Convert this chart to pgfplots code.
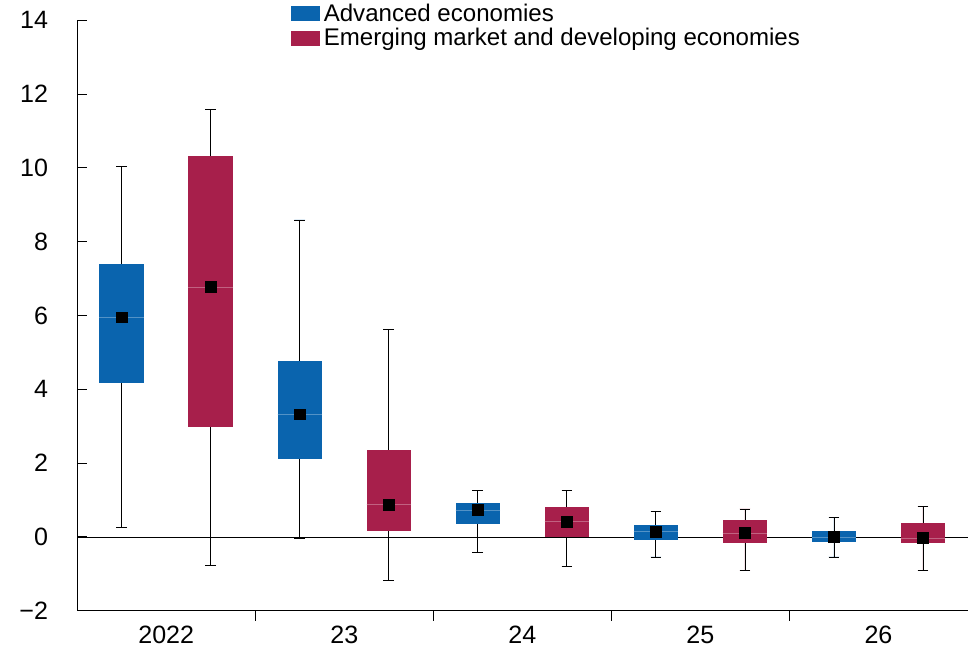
\documentclass[border=0pt]{standalone}
\usepackage{pgfplots}
\pgfplotsset{compat=1.18}
\usepgfplotslibrary{statistics}
\usepackage{fontspec}
\setmainfont{Liberation Sans}
\definecolor{advblue}{HTML}{0A64AE}
\definecolor{emred}{HTML}{A71F4B}
\begin{document}
\begin{tikzpicture}
\begin{axis}[
  scale only axis, width=444pt, height=294.5pt,
  xmin=0, xmax=5, ymin=-2, ymax=14,
  axis lines=left, axis line style={-, black, line width=0.5pt},
  ytick={-2,0,...,14}, yticklabels={−2,0,2,4,6,8,10,12,14},
  xtick={1,2,3,4}, xticklabels={},
  xtick align=outside,
  extra x ticks={0.5,1.5,2.5,3.5,4.5}, extra x tick labels={2022,23,24,25,26},
  extra x tick style={major tick length=0pt},
  ytick align=inside, major tick length=5pt, tick style={black, line width=0.5pt},
  tick label style={font=\fontsize{12.5}{14}\selectfont},
  yticklabel style={xshift=-11pt},
  xticklabel style={yshift=-4pt},
  legend style={at={(0.24,1.035)}, anchor=north west, draw=none, fill=none,
    font=\fontsize{12}{13}\selectfont, row sep=-2pt, inner sep=0pt},
  legend cell align=left,
  boxplot/draw direction=y,
  boxplot/box extend=0.25, boxplot/whisker extend=0.06,
  boxplot/every whisker/.style={draw=black, line width=0.4pt},
  clip=false,
]
\path (rel axis cs:0,0) ++(-38.5pt,0) coordinate (L);
\path (L) rectangle ++(0.1pt,0.1pt);
\addlegendimage{area legend, fill=advblue, draw=none, legend image code/.code={\fill[advblue] (0cm,-0.12cm) rectangle (0.5cm,0.14cm);}}
\addlegendentry{Advanced economies}
\addlegendimage{area legend, fill=emred, draw=none, legend image code/.code={\fill[emred] (0cm,-0.12cm) rectangle (0.5cm,0.14cm);}}
\addlegendentry{Emerging market and developing economies}
\addplot[black, line width=0.4pt, forget plot] coordinates {(0,0) (5,0)};
\pgfplotsset{
  advbox/.style={forget plot, fill=advblue, draw=none, boxplot/every box/.style={fill=advblue, draw=none}, boxplot/every median/.style={draw=advblue!70!white, line width=0.4pt}},
  embox/.style={forget plot, fill=emred, draw=none, boxplot/every box/.style={fill=emred, draw=none}, boxplot/every median/.style={draw=emred!70!white, line width=0.4pt}},
}
% Advanced
\addplot[advbox, boxplot prepared={draw position=0.25, lower whisker=0.27, lower quartile=4.16, median=5.95, upper quartile=7.39, upper whisker=10.03}] coordinates {};
\addplot[advbox, boxplot prepared={draw position=1.25, lower whisker=-0.03, lower quartile=2.12, median=3.32, upper quartile=4.78, upper whisker=8.59}] coordinates {};
\addplot[advbox, boxplot prepared={draw position=2.25, lower whisker=-0.43, lower quartile=0.35, median=0.73, upper quartile=0.92, upper whisker=1.25}] coordinates {};
\addplot[advbox, boxplot prepared={draw position=3.25, lower whisker=-0.54, lower quartile=-0.08, median=0.14, upper quartile=0.33, upper whisker=0.68}] coordinates {};
\addplot[advbox, boxplot prepared={draw position=4.25, lower whisker=-0.54, lower quartile=-0.14, median=0.0, upper quartile=0.16, upper whisker=0.54}] coordinates {};
% Emerging
\addplot[embox, boxplot prepared={draw position=0.75, lower whisker=-0.76, lower quartile=2.99, median=6.77, upper quartile=10.33, upper whisker=11.58}] coordinates {};
\addplot[embox, boxplot prepared={draw position=1.75, lower whisker=-1.17, lower quartile=0.16, median=0.87, upper quartile=2.36, upper whisker=5.63}] coordinates {};
\addplot[embox, boxplot prepared={draw position=2.75, lower whisker=-0.79, lower quartile=0.0, median=0.41, upper quartile=0.82, upper whisker=1.25}] coordinates {};
\addplot[embox, boxplot prepared={draw position=3.75, lower whisker=-0.9, lower quartile=-0.16, median=0.11, upper quartile=0.46, upper whisker=0.76}] coordinates {};
\addplot[embox, boxplot prepared={draw position=4.75, lower whisker=-0.9, lower quartile=-0.16, median=-0.03, upper quartile=0.38, upper whisker=0.82}] coordinates {};
% means
\addplot[forget plot, only marks, mark=square*, mark size=2.7pt, black] coordinates {
(0.25,5.95) (1.25,3.32) (2.25,0.73) (3.25,0.14) (4.25,0.0)
(0.75,6.77) (1.75,0.87) (2.75,0.41) (3.75,0.11) (4.75,-0.03)};
\end{axis}
\end{tikzpicture}
\end{document}
